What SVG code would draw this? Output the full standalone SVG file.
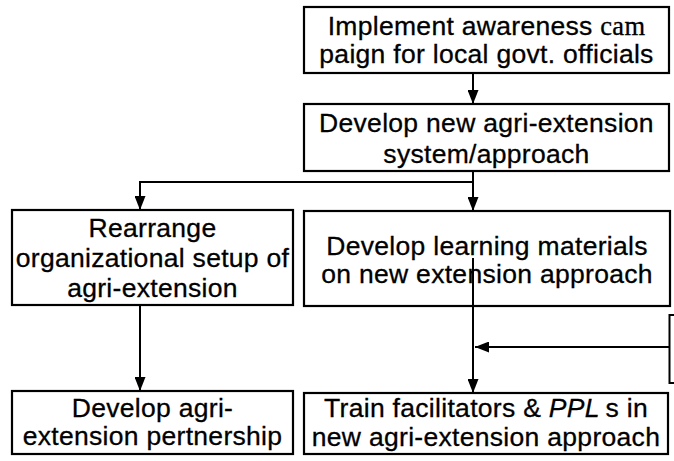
<svg xmlns="http://www.w3.org/2000/svg" width="674" height="461" viewBox="0 0 674 461">
<style>
.box{fill:#fff;stroke:#000;stroke-width:2.2}
.t{font-family:"Liberation Sans",Arial,Helvetica,sans-serif;font-size:26.5px;letter-spacing:0.3px;text-anchor:middle;fill:#000;stroke:#000;stroke-width:0.3}
.c{fill:none;stroke:#000;stroke-width:2}
</style>
<defs>
<marker id="ah" markerUnits="userSpaceOnUse" markerWidth="14" markerHeight="11" refX="14" refY="5.5" orient="auto">
<path d="M0,0 L14,5.5 L0,11 z" fill="#000"/>
</marker>
</defs>
<rect width="674" height="461" fill="#fff"/>
<g id="n1">
<rect class="box" x="304" y="7" width="365" height="66"/>
<text class="t" x="486.5" y="35">Implement awareness <tspan font-family="'Liberation Serif',serif">cam</tspan></text>
<text class="t" x="486.5" y="63">paign for local govt. officials</text>
</g>
<g id="n2">
<rect class="box" x="304" y="104" width="365" height="67"/>
<text class="t" x="486.5" y="132">Develop new agri-extension</text>
<text class="t" x="486.5" y="163">system/approach</text>
</g>
<g id="n3">
<rect class="box" x="12" y="210" width="281" height="95"/>
<text class="t" x="152.5" y="237">Rearrange</text>
<text class="t" x="152.5" y="267">organizational setup of</text>
<text class="t" x="152.5" y="297">agri-extension</text>
</g>
<g id="n4">
<rect class="box" x="304" y="211" width="366" height="95"/>
<text class="t" x="487" y="255">Develop learning materials</text>
<text class="t" x="487" y="283">on new extension approach</text>
</g>
<g id="n5">
<rect class="box" x="12" y="391" width="281" height="63"/>
<text class="t" x="152.5" y="417">Develop agri-</text>
<text class="t" x="152.5" y="445">extension pertnership</text>
</g>
<g id="n6">
<rect class="box" x="304" y="393" width="364" height="61"/>
<text class="t" x="486" y="417">Train facilitators &amp; <tspan font-style="italic">PPL</tspan><tspan dx="-2"> s in</tspan></text>
<text class="t" x="486" y="446">new agri-extension approach</text>
</g>
<g id="connectors">
<path class="c" d="M473,73 V104" marker-end="url(#ah)"/>
<path class="c" d="M473,171 V211" marker-end="url(#ah)"/>
<path class="c" d="M473,182 H140 V210" marker-end="url(#ah)"/>
<path class="c" d="M140,305 V391" marker-end="url(#ah)"/>
<path class="c" d="M473,258 V393" marker-end="url(#ah)"/>
<path class="c" d="M669,347 H475" marker-end="url(#ah)"/>
<path class="c" d="M674,315 H669.5 V383 H674"/>
</g>
</svg>
